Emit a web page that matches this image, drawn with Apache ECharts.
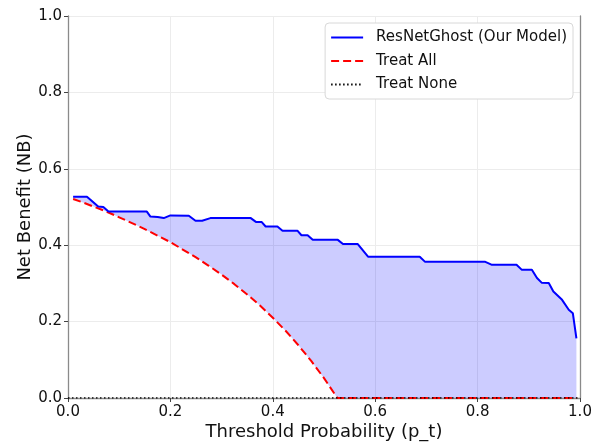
<!DOCTYPE html>
<html>
<head>
<meta charset="utf-8">
<script src="https://cdn.jsdelivr.net/npm/echarts@6/dist/echarts.min.js"></script>
<style>
html,body{margin:0;padding:0;background:#fff;}
#chart{width:602px;height:443px;}
</style>
</head>
<body>
<div id="chart"></div>
<script>
// Threshold probabilities and net benefit of the model
const modelX = [0.01,0.037,0.059,0.069,0.079,0.154,0.161,0.175,0.187,0.2,0.236,0.249,0.262,0.278,0.357,0.367,0.378,0.386,0.409,0.419,0.448,0.456,0.468,0.478,0.527,0.537,0.566,0.586,0.687,0.697,0.814,0.827,0.876,0.886,0.906,0.916,0.925,0.939,0.948,0.965,0.978,0.986,0.993];
const modelNB = [0.527,0.527,0.501,0.500,0.488,0.488,0.475,0.474,0.471,0.478,0.477,0.464,0.464,0.471,0.471,0.461,0.461,0.449,0.449,0.438,0.438,0.426,0.426,0.414,0.414,0.403,0.403,0.370,0.370,0.357,0.357,0.349,0.349,0.336,0.336,0.314,0.302,0.301,0.279,0.257,0.231,0.222,0.156];

// Treat All curve (clipped at zero)
const allX = [0.01,0.025,0.05,0.075,0.1,0.125,0.15,0.175,0.2,0.225,0.25,0.275,0.3,0.325,0.35,0.375,0.4,0.425,0.45,0.475,0.5,0.526,0.993];
const allNB = [0.521,0.514,0.501,0.488,0.473,0.458,0.442,0.425,0.408,0.388,0.368,0.346,0.323,0.298,0.271,0.242,0.210,0.176,0.138,0.097,0.052,0.0,0.0];

// Treat None
const noneX = [0.0, 1.0];
const noneNB = [0.0, 0.0];

const xTicks = [0.0,0.2,0.4,0.6,0.8,1.0];
const yTicks = [0.0,0.2,0.4,0.6,0.8,1.0];

const names = ['ResNetGhost (Our Model)', 'Treat All', 'Treat None'];

const zip = (a, b) => a.map((v, i) => [v, b[i]]);
const modelData = zip(modelX, modelNB);
const allData = zip(allX, allNB);
const noneData = zip(noneX, noneNB);

const FONT = 'DejaVu Sans';
const chart = echarts.init(document.getElementById('chart'), null, {renderer: 'canvas'});

chart.setOption({
  animation: false,
  backgroundColor: '#ffffff',
  textStyle: {fontFamily: FONT},
  grid: {left: 68, right: 22, top: 16, bottom: 45, containLabel: false, outerBoundsMode: 'none'},
  legend: {
    data: names,
    orient: 'vertical',
    right: 29,
    top: 23,
    padding: [7, 6, 7, 5],
    itemGap: 8.5,
    itemWidth: 32,
    itemHeight: 14,
    backgroundColor: '#ffffff',
    borderColor: '#d8d8d8',
    borderWidth: 1,
    borderRadius: 4,
    itemStyle: {color: 'rgba(0,0,0,0)', borderWidth: 0, opacity: 0},
    textStyle: {fontFamily: FONT, fontSize: 15, color: '#111', padding: [0, 0, 0, 8]}
  },
  xAxis: {
    type: 'value',
    min: 0, max: 1, interval: 0.2,
    name: 'Threshold Probability (p_t)',
    nameLocation: 'middle',
    nameGap: 25,
    nameMoveOverlap: false,
    nameTextStyle: {fontFamily: FONT, fontSize: 18, color: '#111'},
    axisLine: {show: true, onZero: false, lineStyle: {color: '#8a8a8a', width: 1.3}},
    axisTick: {show: true, length: 4, lineStyle: {color: '#444'}},
    axisLabel: {fontFamily: FONT, fontSize: 15, color: '#111', margin: 7,
      formatter: v => v.toFixed(1)},
    splitLine: {show: true, lineStyle: {color: '#ececec', width: 1}}
  },
  yAxis: [{
    type: 'value',
    min: 0, max: 1, interval: 0.2,
    name: 'Net Benefit (NB)',
    nameLocation: 'middle',
    nameGap: 34,
    nameMoveOverlap: false,
    nameTextStyle: {fontFamily: FONT, fontSize: 18, color: '#111'},
    axisLine: {show: true, lineStyle: {color: '#8a8a8a', width: 1.3}},
    axisTick: {show: true, length: 4, lineStyle: {color: '#444'}},
    axisLabel: {fontFamily: FONT, fontSize: 15, color: '#111', margin: 6,
      formatter: v => v.toFixed(1)},
    splitLine: {show: true, lineStyle: {color: '#ececec', width: 1}}
  }, {
    type: 'value',
    position: 'right',
    min: 0, max: 1, interval: 0.2,
    axisLine: {show: true, lineStyle: {color: '#8a8a8a', width: 1.3}},
    axisTick: {show: false},
    axisLabel: {show: false},
    splitLine: {show: false}
  }],
  series: [
    {
      name: 'fill',
      type: 'custom',
      silent: true,
      z: 1,
      data: [[0, 0]],
      renderItem: function (params, api) {
        const pts = [];
        modelData.forEach(p => pts.push(api.coord(p)));
        for (let i = allData.length - 1; i >= 0; i--) pts.push(api.coord(allData[i]));
        return {
          type: 'polygon',
          shape: {points: pts},
          style: {fill: 'rgba(0,0,255,0.2)', stroke: null}
        };
      }
    },
    {
      name: names[1],
      type: 'line',
      data: allData,
      showSymbol: false,
      symbol: 'none',
      z: 3,
      lineStyle: {color: '#ff0000', width: 2, type: [8, 4]},
      itemStyle: {color: '#ff0000'}
    },
    {
      name: names[2],
      type: 'line',
      data: noneData,
      showSymbol: false,
      symbol: 'none',
      z: 4,
      lineStyle: {color: '#000000', width: 1.6, type: [1.5, 2.5]},
      itemStyle: {color: '#000000'}
    },
    {
      name: names[0],
      type: 'line',
      data: modelData,
      showSymbol: false,
      symbol: 'none',
      z: 5,
      lineStyle: {color: '#0000ff', width: 2},
      itemStyle: {color: '#0000ff'}
    }
  ]
});
</script>
</body>
</html>
